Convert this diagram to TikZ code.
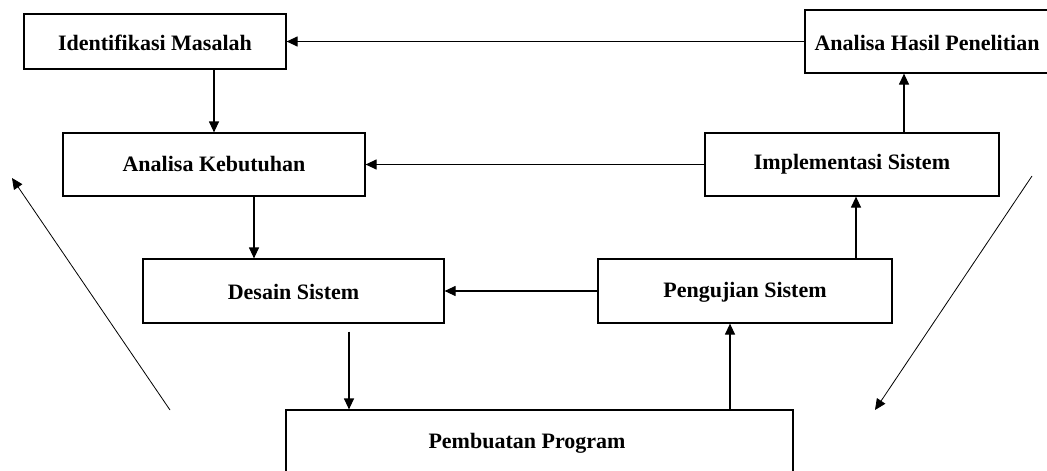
\documentclass[tikz,border=0pt]{standalone}
\usepackage{fontspec}
\setmainfont{Liberation Serif}
\usetikzlibrary{arrows.meta,calc}
\begin{document}
\begin{tikzpicture}[x=1pt,y=-1pt,
  box/.style={draw=black,line width=1.2pt,rectangle,inner sep=0pt},
  lbl/.style={font=\fontsize{22}{26}\selectfont\bfseries},
  arr/.style={line width=1.2pt,-{Triangle[length=11pt,width=10pt]}},
  diag/.style={line width=0.8pt,-{Triangle[length=11pt,width=10pt]}}]
\useasboundingbox (0,0) rectangle (1047,471);
\clip (0,0) rectangle (1047,471);
\node[box,minimum width=262pt,minimum height=55pt] (IM) at (155,41.5) {};
\node[lbl] at (155,43) {Identifikasi Masalah};
\node[box,minimum width=250pt,minimum height=63pt] (AH) at (930,41.5) {};
\node[lbl] at (927,43) {Analisa Hasil Penelitian};
\node[box,minimum width=302pt,minimum height=63pt] (AK) at (214,164.5) {};
\node[lbl] at (214,164) {Analisa Kebutuhan};
\node[box,minimum width=294pt,minimum height=63pt] (IS) at (852,164.5) {};
\node[lbl] at (852,164) {Implementasi Sistem};
\node[box,minimum width=301pt,minimum height=64pt] (DS) at (293.5,291) {};
\node[lbl] at (293.5,292) {Desain Sistem};
\node[box,minimum width=294pt,minimum height=64pt] (PS) at (745,291) {};
\node[lbl] at (745,292) {Pengujian Sistem};
\node[box,minimum width=507pt,minimum height=80pt] (PP) at (539.5,450) {};
\node[lbl] at (527,443) {Pembuatan Program};
\coordinate (LD1) at (170,410);
\coordinate (LD2) at (12,178);
\coordinate (RD1) at (1032,176);
\coordinate (RD2) at (875,410);
\draw[arr] (AH.west) -- (IM.east);
\draw[arr] ([xshift=59pt]IM.south) -- ([xshift=0pt]AK.north);
\draw[arr] (IS.west) -- (AK.east);
\draw[arr] ([xshift=40pt]AK.south) -- ([xshift=-39.5pt]DS.north);
\draw[arr] (PS.west) -- (DS.east);
\draw[arr] ([xshift=55.5pt,yshift=-8pt]DS.south) -- ([xshift=-190.5pt]PP.north);
\draw[arr] ([xshift=190.5pt]PP.north) -- ([xshift=-15pt]PS.south);
\draw[arr] ([xshift=111pt]PS.north) -- ([xshift=4pt]IS.south);
\draw[arr] ([xshift=52pt]IS.north) -- ([xshift=-26pt]AH.south);
\draw[diag] (LD1) -- (LD2);
\draw[diag] (RD1) -- (RD2);
\end{tikzpicture}
\end{document}
